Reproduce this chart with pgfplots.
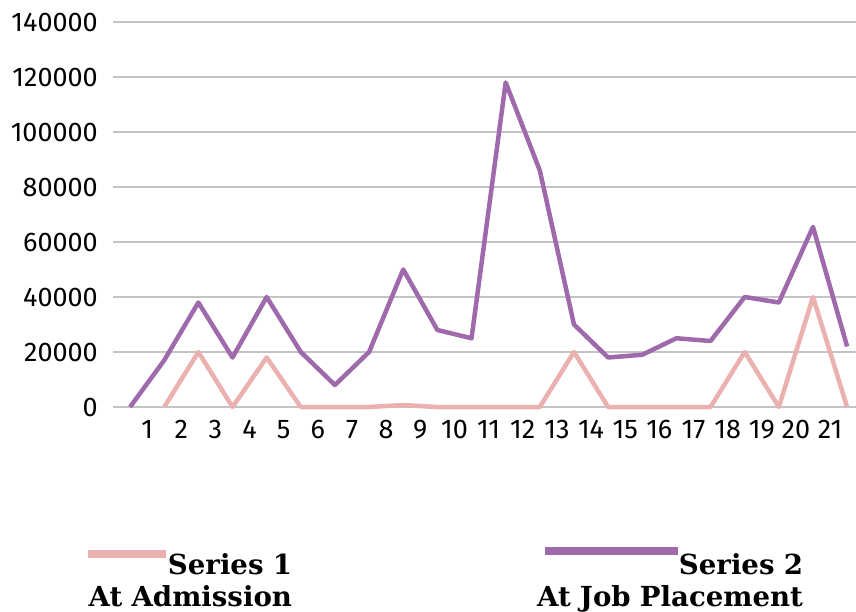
\documentclass[border=0pt]{standalone}
\usepackage{pgfplots}
\pgfplotsset{compat=1.18}
\usepackage{fontspec}
\setmainfont{Fira Sans}
\newfontfamily\legfont{DejaVu Serif}
\definecolor{s1}{HTML}{EBB0B0}
\definecolor{s2}{HTML}{9E6AAC}
\definecolor{gridc}{HTML}{C4C4C4}
\begin{document}
\begin{tikzpicture}[x=1pt,y=1pt]
\useasboundingbox (0,0) rectangle (856,611);
\begin{axis}[
  at={(113pt,204pt)}, anchor=south west,
  scale only axis, width=743pt, height=385pt,
  xmin=-0.5, xmax=21.26, ymin=0, ymax=140000,
  axis line style={draw=none},
  major tick length=0pt,
  ytick={0,20000,40000,60000,80000,100000,120000,140000},
  ymajorgrids, grid style={gridc, line width=1.5pt},
  xtick={0.5,1.5,2.5,3.5,4.5,5.5,6.5,7.5,8.5,9.5,10.5,11.5,12.5,13.5,14.5,15.5,16.5,17.5,18.5,19.5,20.5},
  xticklabels={1,2,3,4,5,6,7,8,9,10,11,12,13,14,15,16,17,18,19,20,21},
  tick label style={font=\fontsize{27}{30}\selectfont, black},
  /pgf/number format/assume math mode=true,
  /pgf/number format/fixed,
  /pgf/number format/precision=0,
  /pgf/number format/1000 sep={},
  scaled y ticks=false,
  yticklabel style={inner sep=0pt, xshift=-15pt},
  xticklabel style={inner sep=0pt, yshift=-13pt},
  clip=false,
  legend columns=2,
  legend style={draw=none, fill=none, inner sep=0pt, outer sep=0pt,
    at={(-0.03365,-0.38)}, anchor=north west,
    nodes={inner sep=0pt, font=\legfont\bfseries\fontsize{27.6}{32}\selectfont},
    /tikz/every even column/.append style={column sep=226pt}},
]
\addplot[s1, line width=4.5pt, line join=round,
  legend image code/.code={\draw[s1, line width=8pt, overlay] (0pt,11pt) -- (78pt,11pt);}]
  coordinates {(1,0) (2,20000) (3,0) (4,18000) (5,0) (6,0) (7,0) (8,700) (9,0) (10,0) (11,0) (12,0) (13,20000) (14,0) (15,0) (16,0) (17,0) (18,20000) (19,0) (20,40000) (21,0)};
\addlegendentry[text width=204pt, align=right]{Series 1\\At Admission}
\addplot[s2, line width=4.5pt, line join=round,
  legend image code/.code={\draw[s2, line width=8pt, overlay] (27pt,14pt) -- (160pt,14pt);}]
  coordinates {(0,0) (1,17000) (2,38000) (3,18000) (4,40000) (5,20000) (6,8000) (7,20000) (8,50000) (9,28000) (10,25000) (11,118000) (12,86000) (13,30000) (14,18000) (15,19000) (16,25000) (17,24000) (18,40000) (19,38000) (20,65500) (21,22000)};
\addlegendentry[text width=285pt, align=right]{Series 2\\At Job Placement}
\end{axis}
\end{tikzpicture}
\end{document}
